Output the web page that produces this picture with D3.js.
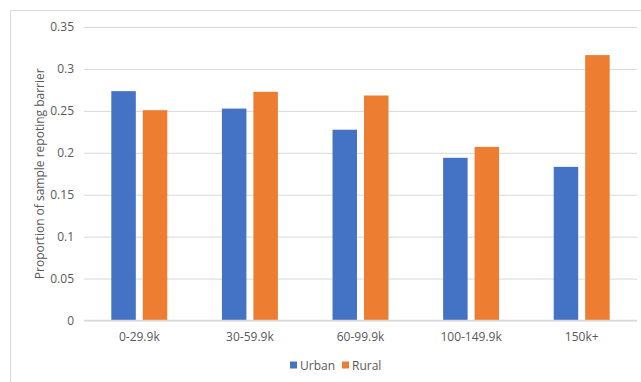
<!DOCTYPE html>
<html><head><meta charset="utf-8">
<script src="https://cdn.jsdelivr.net/npm/d3@7"></script>
<style>body{margin:0;background:#fff}svg{display:block}text{font-family:"Open Sans","Noto Sans",sans-serif;fill:#595959}</style>
</head><body><svg id="c" width="641" height="382"></svg>
<script>
const categories = ["0-29.9k","30-59.9k","60-99.9k","100-149.9k","150k+"];
const seriesNames = ["Urban","Rural"];
const urban = [0.2735, 0.2527, 0.2275, 0.1940, 0.1832];
const rural = [0.2508, 0.2727, 0.2683, 0.2070, 0.3165];
const yTicks = [0,0.05,0.1,0.15,0.2,0.25,0.3,0.35];
const colors = ["#4472C4","#ED7D31"];
const yTitle = "Proportion of sample repoting barrier";

const svg = d3.select("#c");
// chart border
svg.append("rect").attr("x",10.5).attr("y",10.5).attr("width",640).attr("height",380)
  .attr("fill","none").attr("stroke","#D9D9D9").attr("stroke-width",1);

const pLeft=84, pRight=637, pTop=27, pBottom=320.5;
const y = d3.scaleLinear().domain([0,0.35]).range([pBottom, pTop]);
const x0 = d3.scaleBand().domain(categories).range([pLeft,pRight]).paddingInner(0.494).paddingOuter(0.247);
const x1 = d3.scaleBand().domain(seriesNames).range([0,x0.bandwidth()]).paddingInner(0.222);

// gridlines
const yAxis = d3.axisLeft(y).tickValues(yTicks).tickSize(-(pRight-pLeft)).tickPadding(10).tickFormat(d=>String(d));
const ga = svg.append("g").attr("transform",`translate(${pLeft},0)`).call(yAxis);
ga.select(".domain").remove();
ga.selectAll(".tick line").attr("stroke","#D9D9D9").attr("stroke-width",1);
ga.selectAll(".tick text").attr("font-size",12).attr("fill","#595959");

const data = categories.map((c,i)=>({cat:c, vals:[urban[i], rural[i]]}));
const g = svg.append("g");
data.forEach(d=>{
  d.vals.forEach((v,j)=>{
    g.append("rect").attr("x", x0(d.cat)+x1(seriesNames[j])).attr("y", y(v))
      .attr("width", x1.bandwidth()).attr("height", y(0)-y(v)).attr("fill", colors[j]);
  });
});
// x axis line
svg.append("line").attr("x1",pLeft).attr("x2",pRight).attr("y1",y(0)).attr("y2",y(0))
  .attr("stroke","#D9D9D9").attr("stroke-width",1.5);
const xAxis = d3.axisBottom(x0).tickSize(0).tickPadding(12);
const gx = svg.append("g").attr("transform",`translate(0,${y(0)})`).call(xAxis);
gx.select(".domain").remove();
gx.selectAll(".tick text").attr("font-size",12).attr("fill","#595959");

// y title
svg.append("text").attr("transform",`translate(44,${(pTop+pBottom)/2}) rotate(-90)`)
  .attr("text-anchor","middle").attr("font-size",12).text(yTitle);

// legend
const lg = svg.append("g").attr("transform","translate(290,0)");
const lx = [0, 52];
seriesNames.forEach((s,i)=>{
  lg.append("rect").attr("x",lx[i]).attr("y",361.5).attr("width",7).attr("height",7).attr("fill",colors[i]);
  lg.append("text").attr("x",lx[i]+10).attr("y",369.5).attr("font-size",12).text(s);
});
</script></body></html>
